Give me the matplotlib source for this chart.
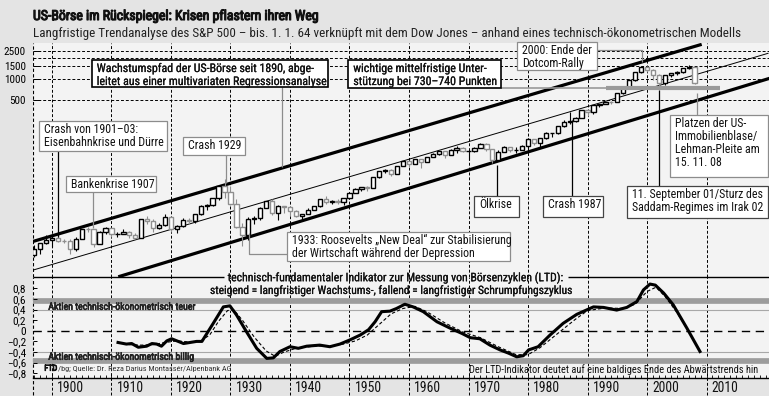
import matplotlib
matplotlib.use("Agg")
import matplotlib.pyplot as plt
from matplotlib import font_manager as fm
from matplotlib import patheffects as pe
from matplotlib.patches import Rectangle
from matplotlib.transforms import blended_transform_factory as btf

# condensed sans (Roboto Condensed, upright) if available
FP = None
for f in fm.fontManager.ttflist:
    if f.name == 'Roboto Condensed' and f.style == 'normal' and 'Italic' not in f.fname:
        FP = f.fname
        break
if FP is not None:
    plt.rcParams['font.family'] = ['Roboto Condensed', 'DejaVu Sans']
    plt.rcParams['font.style'] = 'normal'
else:
    plt.rcParams['font.family'] = ['DejaVu Sans']

def FPROP(**kw):
    if FP is not None:
        return fm.FontProperties(fname=FP, **kw)
    return fm.FontProperties(family='DejaVu Sans', **kw)

# ---------------- data ----------------
candle_years = list(range(1897, 2009))
first_open = 3.02
candle_close = [3.69, 4.52, 4.94, 5.28, 4.82, 4.80, 3.67, 5.20, 7.19, 7.05,
                4.39, 6.44, 7.40, 6.08, 6.10, 6.56, 5.88, 5.37, 9.75, 9.34,
                7.31, 8.08, 10.54, 7.07, 7.97, 9.71, 9.39, 11.85, 15.40, 15.45,
                19.90, 29.49, 24.43, 16.18, 7.66, 5.89, 9.82, 10.23, 14.17, 17.68,
                11.88, 15.21, 14.77, 12.89, 10.91, 11.74, 13.36, 14.97, 18.96, 17.42,
                17.81, 17.43, 19.67, 23.14, 26.47, 28.69, 27.61, 39.75, 48.01, 49.10,
                42.83, 57.37, 66.78, 60.54, 71.87, 64.10, 75.00, 84.75, 92.43, 80.33,
                96.47, 103.86, 92.06, 92.15, 102.09, 118.05, 97.55, 68.56, 90.19, 107.46,
                95.10, 96.11, 107.94, 135.76, 122.55, 140.64, 164.93, 167.24, 211.28, 242.17,
                247.08, 277.72, 353.40, 330.22, 417.09, 435.71, 466.45, 459.27, 615.93, 740.74,
                970.43, 1229.23, 1469.25, 1320.28, 1148.08, 879.82, 1111.92, 1211.92, 1248.29, 1418.30,
                1468.36, 873.0]
candle_high = [4.17, 4.55, 5.80, 5.30, 5.85, 5.11, 5.06, 5.47, 7.22, 7.69,
               7.20, 6.60, 7.51, 7.34, 6.51, 7.04, 6.62, 6.23, 9.75, 10.83,
               9.75, 8.76, 11.76, 10.80, 8.01, 10.16, 10.36, 11.85, 15.67, 16.38,
               19.90, 29.49, 37.47, 28.91, 19.11, 8.73, 10.69, 10.88, 14.59, 18.18,
               19.11, 15.57, 15.32, 15.02, 13.13, 11.77, 14.33, 14.99, 19.25, 20.89,
               18.37, 18.99, 19.71, 23.15, 27.17, 28.70, 28.88, 39.75, 48.01, 51.22,
               51.19, 57.37, 66.78, 67.38, 72.24, 71.37, 75.42, 86.28, 92.63, 94.06,
               97.59, 108.37, 106.16, 93.46, 104.77, 119.12, 120.24, 99.80, 95.61, 107.83,
               107.00, 106.99, 111.27, 140.52, 138.12, 143.02, 172.65, 170.41, 212.02, 254.00,
               336.77, 283.66, 359.80, 368.95, 417.09, 441.28, 470.94, 482.00, 621.69, 757.03,
               983.79, 1241.81, 1469.25, 1527.46, 1373.73, 1172.51, 1111.92, 1213.55, 1272.74, 1427.09,
               1565.15, 1471.0]
candle_low = [2.88, 3.14, 4.36, 3.96, 4.59, 4.45, 3.15, 3.47, 5.14, 6.36,
              3.96, 4.38, 5.97, 5.50, 5.45, 5.99, 5.39, 5.23, 5.33, 8.36,
              6.48, 7.22, 7.78, 6.56, 6.28, 7.73, 8.43, 8.68, 11.30, 13.29,
              15.01, 18.80, 19.53, 15.48, 7.25, 4.05, 4.93, 8.40, 9.51, 14.07,
              11.17, 9.73, 11.93, 10.99, 10.45, 9.13, 11.73, 13.19, 14.88, 16.03,
              16.04, 16.26, 15.89, 19.35, 23.49, 25.20, 25.12, 27.51, 38.16, 45.45,
              41.27, 42.95, 56.47, 55.64, 59.99, 52.67, 63.58, 75.43, 81.60, 73.20,
              80.38, 87.72, 89.20, 69.29, 90.16, 101.67, 92.16, 62.28, 70.04, 90.90,
              90.71, 86.90, 96.13, 98.22, 112.77, 102.42, 138.34, 147.82, 163.68, 203.49,
              223.92, 242.63, 275.31, 295.46, 311.49, 394.50, 429.05, 438.92, 459.11, 598.48,
              737.01, 923.32, 1212.19, 1264.74, 965.80, 776.76, 800.73, 1063.23, 1137.50, 1223.69,
              1374.12, 840.0]

trend_upper_years = [1896.69, 2009.19]
trend_upper = [4.7, 3097]
trend_mid_years = [1896.86, 2020.34]
trend_mid = [1.85, 2306]
trend_lower_years = [1911.14, 2020.6]
trend_lower = [1.48, 1013]
support_years = [1993.1, 2012.3]
support_level = [736, 736]

ltd_years = [1911.1, 1912.5, 1913.4, 1914.5, 1915.9, 1916.8, 1917.6, 1918.4, 1919.3, 1920.1,
             1921.0, 1922.1, 1923.2, 1924.3, 1925.2, 1927.1, 1928.8, 1929.9, 1931.0, 1932.7,
             1934.4, 1936.1, 1937.2, 1938.3, 1940.0, 1941.4, 1942.8, 1945.0, 1946.7, 1948.4,
             1950.1, 1951.8, 1953.2, 1954.3, 1955.4, 1956.8, 1957.9, 1959.3, 1960.7, 1962.4,
             1964.7, 1966.9, 1968.9, 1970.3, 1971.9, 1973.6, 1975.3, 1976.7, 1978.1, 1979.2,
             1980.1, 1981.7, 1983.7, 1985.9, 1988.2, 1991.0, 1992.7, 1994.9, 1996.6, 1998.3,
             1999.4, 2000.5, 2001.4, 2002.8, 2004.4, 2006.7, 2008.9]
ltd_values = [-0.22, -0.25, -0.24, -0.31, -0.29, -0.24, -0.25, -0.29, -0.19, -0.15,
              -0.19, -0.24, -0.22, -0.20, -0.20, 0.14, 0.45, 0.47, 0.30, -0.02,
              -0.33, -0.52, -0.51, -0.39, -0.30, -0.33, -0.29, -0.27, -0.30, -0.25,
              -0.17, -0.08, 0.02, 0.17, 0.36, 0.37, 0.42, 0.50, 0.45, 0.36,
              0.17, 0.05, -0.05, -0.13, -0.15, -0.27, -0.36, -0.42, -0.49, -0.47,
              -0.36, -0.30, -0.08, 0.14, 0.31, 0.45, 0.44, 0.39, 0.44, 0.55,
              0.77, 0.88, 0.86, 0.71, 0.49, 0.05, -0.39]
ltd_sig_years = [1911.1, 1913, 1915, 1917, 1919, 1921, 1923, 1925, 1926.5, 1928,
                 1929.5, 1930.5, 1932, 1934, 1936, 1937.5, 1939, 1941, 1944, 1947,
                 1949, 1951, 1953, 1955, 1957, 1959, 1961, 1963, 1966, 1969,
                 1972, 1975, 1978, 1980, 1982, 1985, 1988, 1990, 1993, 1996,
                 1998, 2000, 2001.5, 2003, 2005, 2007.5]
ltd_sig_values = [-0.22, -0.26, -0.27, -0.26, -0.22, -0.19, -0.21, -0.19, -0.08, 0.18,
                  0.38, 0.40, 0.20, -0.12, -0.38, -0.48, -0.40, -0.33, -0.29, -0.28,
                  -0.25, -0.19, -0.08, 0.12, 0.32, 0.42, 0.46, 0.36, 0.15, -0.02,
                  -0.13, -0.30, -0.45, -0.45, -0.32, -0.05, 0.22, 0.38, 0.43, 0.42,
                  0.50, 0.74, 0.82, 0.65, 0.35, -0.10]

top_ticks = [2500, 1500, 1000, 500]
top_grid = [2500, 2000, 1500, 1000, 500]
bot_ticks = [0.8, 0.6, 0.4, 0.2, 0, -0.2, -0.4, -0.6, -0.8]
decades = list(range(1900, 2020, 10))

# ---------------- layout ----------------
W, H = 769, 396
BG = '#e4e4e4'
PBG = '#f3f3f3'
GRAY = '#8f8f8f'
fig = plt.figure(figsize=(W / 100, H / 100), dpi=100, facecolor=BG)

def fr(x0, y0, x1, y1):
    return [x0 / W, 1 - y1 / H, (x1 - x0) / W, (y1 - y0) / H]

ax = fig.add_axes(fr(33, 43, 769, 277), facecolor=PBG)
axb = fig.add_axes(fr(33, 277, 769, 378), facecolor=PBG)
XL = (1896.81, 2020.5)
for a in (ax, axb):
    a.set_xlim(*XL)
    for s in ('top', 'right', 'bottom', 'left'):
        a.spines[s].set_visible(False)
ax.set_yscale('log')
ax.set_ylim(1.47, 3237)
axb.set_ylim(-0.889, 1.013)

DASH = (0, (3, 2))
for d in decades:
    ax.axvline(d, color='black', lw=0.7, ls=DASH, zorder=1)
    axb.plot([d, d], [-0.17, 1], transform=btf(axb.transData, axb.transAxes),
             color='black', lw=0.7, ls=DASH, clip_on=False, zorder=1)
ax.axvline(XL[0] + 0.05, color='black', lw=0.8, ls=DASH, zorder=1)
axb.plot([XL[0] + 0.05] * 2, [-0.17, 1], transform=btf(axb.transData, axb.transAxes),
         color='black', lw=0.8, ls=DASH, clip_on=False, zorder=1)
for v in top_grid:
    ax.axhline(v, color='black', lw=0.7, ls=DASH, zorder=1)

ax.plot(trend_upper_years, trend_upper, color='black', lw=2.3, zorder=2, solid_capstyle='butt')
ax.plot(trend_mid_years, trend_mid, color='black', lw=0.7, zorder=2)
ax.plot(trend_lower_years, trend_lower, color='black', lw=2.3, zorder=2, solid_capstyle='butt')

opens = [first_open] + candle_close[:-1]
cols, bots, hts = [], [], []
for o, c in zip(opens, candle_close):
    cols.append('black' if c >= o else GRAY)
    bots.append(min(o, c))
    hts.append(max(abs(c - o), 0.002 * c))
ax.vlines(candle_years, candle_low, candle_high, colors=cols, lw=0.8, zorder=3)
ax.bar(candle_years, hts, bottom=bots, width=0.72, color='white', edgecolor=cols,
       linewidth=1.0, zorder=4)

ax.plot(support_years, support_level, color='#9a9a9a', lw=3.0, zorder=5, solid_capstyle='butt')

ax.set_xticks([])
ax.set_yticks(top_ticks)
ax.set_yticks([], minor=True)
ax.set_yticklabels([str(t) for t in top_ticks])
ax.tick_params(axis='y', direction='in', length=4, width=0.7, pad=5)

axb.axhline(0.56, color='#9c9c9c', lw=4.1, zorder=1)
axb.axhline(-0.56, color='#9c9c9c', lw=4.1, zorder=1)
axb.axhline(0.4, color='#a8a8a8', lw=0.8, zorder=1)
axb.axhline(-0.4, color='#a8a8a8', lw=0.8, zorder=1)
axb.axhline(0, color='black', lw=1.0, ls=(0, (6, 4)), zorder=1)
axb.plot(ltd_sig_years, ltd_sig_values, color='black', lw=0.8, ls=(0, (3, 2)), zorder=3)
axb.plot(ltd_years, ltd_values, color='black', lw=2.2, zorder=4, solid_joinstyle='round')
axb.spines['bottom'].set_visible(True)
axb.spines['bottom'].set_linewidth(1.0)
axb.set_xticks([])
axb.set_xticks(list(range(1897, 2021)), minor=True)
axb.tick_params(axis='x', which='minor', direction='in', length=2.5, width=0.6)
axb.set_yticks(bot_ticks)
axb.set_yticklabels([('\u2212' if t < 0 else '') + ('%.1f' % abs(t)).replace('.', ',')
                     if t != 0 else '0' for t in bot_ticks])
axb.tick_params(axis='y', direction='in', length=3, width=0.7, pad=5)

fig.canvas.draw()
R = fig.canvas.get_renderer()

def size_for(s, w):
    t = fig.text(0, 0, s, fontproperties=FPROP(size=10))
    bb = t.get_window_extent(R)
    t.remove()
    return 10 * w / bb.width

def bold(c, w=0.6):
    return [pe.withStroke(linewidth=w, foreground=c)]

for lab in ax.get_yticklabels():
    lab.set_fontproperties(FPROP(size=size_for('2500', 21.7)))
for lab in axb.get_yticklabels():
    lab.set_fontproperties(FPROP(size=size_for('0,8', 13.3)))
ysz = size_for('1900', 26.7)
for d in decades:
    axb.text(d + 0.85, -0.10, str(d), transform=btf(axb.transData, axb.transAxes),
             ha='left', va='center', fontproperties=FPROP(size=ysz), color='#111')

def px(x, y):
    return x / W, 1 - y / H

title = 'US-Börse im Rückspiegel: Krisen pflastern ihren Weg'
fig.text(*px(33, 16), title, fontproperties=FPROP(size=size_for(title, 284)),
         va='center', ha='left', color='#111', path_effects=bold('#111', 0.8))
sub = 'Langfristige Trendanalyse des S&P 500 – bis. 1. 1. 64 verknüpft mit dem Dow Jones – anhand eines technisch-ökonometrischen Modells'
fig.text(*px(33, 33), sub, fontproperties=FPROP(size=size_for(sub, 700)), va='center', ha='left', color='#222')

ov = fig.add_axes([0, 0, 1, 1], zorder=10)
ov.set_xlim(0, W)
ov.set_ylim(H, 0)
ov.axis('off')
ov.patch.set_visible(False)

bsz = size_for('leitet aus einer multivariaten Regressionsanalyse', 228)

def box(x0, y0, x1, y1, lines, ec, lw=0.9, heavy=False):
    ov.add_patch(Rectangle((x0, y0), x1 - x0, y1 - y0, facecolor='white', edgecolor=ec, lw=lw, zorder=5))
    for i, ln in enumerate(lines):
        ov.text(x0 + 5, y0 + 8.5 + i * 13, ln, ha='left', va='center', fontproperties=FPROP(size=bsz),
                color='#111', zorder=6, path_effects=bold('#111', 0.15) if heavy else None)

def seg(xs, ys, c, lw=0.9):
    ov.plot(xs, ys, color=c, lw=lw, zorder=4, solid_capstyle='butt')

LG = '#8c8c8c'
seg([58.3, 58.3], [150.7, 236.7], 'black')
box(39.3, 120.7, 166.7, 150.7, ['Crash von 1901–03:', 'Eisenbahnkrise und Dürre'], LG)
seg([93.3, 93.3], [191.7, 228.3], LG)
box(66, 176, 156, 191.7, ['Bankenkrise 1907'], LG)
seg([226, 226], [155, 183.3], LG)
box(183.3, 136.7, 245, 155, ['Crash 1929'], LG)
seg([281.7, 281.7], [86.7, 167], LG)
box(91.7, 60, 328.3, 86.7, ['Wachstumspfad der US-Börse seit 1890, abge-',
                           'leitet aus einer multivariaten Regressionsanalyse'], 'black', 1.2, True)
seg([500.7, 606], [88, 88], '#9a9a9a', 1.2)
box(348.3, 60, 500.7, 88.3, ['wichtige mittelfristige Unter-', 'stützung bei 730–740 Punkten'], 'black', 1.2, True)
seg([596.7, 641.7, 641.7], [50, 50, 61.7], LG)
box(516.7, 41.7, 596.7, 70, ['2000: Ende der', 'Dotcom-Rally'], LG)
seg([249.3, 249.3, 286.7], [233.3, 254, 254], LG)
box(286.7, 231.7, 510, 261, ['1933: Roosevelts „New Deal“ zur Stabilisierung',
                             'der Wirtschaft während der Depression'], LG)
seg([496.7, 496.7], [165, 196], 'black')
box(474, 196, 519.3, 217.3, ['Ölkrise'], '#444')
seg([571.7, 571.7], [120, 196], 'black')
box(542.7, 196, 602.7, 217.3, ['Crash 1987'], '#444')
seg([659, 659], [90, 186], 'black')
box(626.7, 186, 768.3, 218.3, ['11. September 01/Sturz des', 'Saddam-Regimes im Irak 02'], '#444')
seg([696.7, 696.7], [93, 115], LG)
box(670, 115, 768.3, 177.3, ['Platzen der US-', 'Immobilienblase/', 'Lehman-Pleite am', '15. 11. 08'], LG)

seg([33, 224], [277, 277], 'black', 1.0)
seg([568, 769], [277, 277], 'black', 1.0)
t1 = 'technisch-fundamentaler Indikator zur Messung von Börsenzyklen (LTD):'
t2 = 'steigend = langfristiger Wachstums-, fallend = langfristiger Schrumpfungszyklus'
ov.text(227.7, 277.5, t1, fontproperties=FPROP(size=size_for(t1, 334)), ha='left', va='center', color='#111',
        path_effects=bold('#111', 0.15))
ov.text(210, 290.5, t2, fontproperties=FPROP(size=size_for(t2, 360.7)), ha='left', va='center', color='#111',
        path_effects=bold('#111', 0.15))
t3 = 'Aktien technisch-ökonometrisch teuer'
t4 = 'Aktien technisch-ökonometrisch billig'
ov.text(48.3, 306.7, t3, fontproperties=FPROP(size=size_for(t3, 146)), ha='left', va='center', color='#222',
        path_effects=bold('#222', 0.5))
ov.text(48.3, 356.7, t4, fontproperties=FPROP(size=size_for(t4, 145)), ha='left', va='center', color='#222',
        path_effects=bold('#222', 0.5))
fsz = size_for('FTD/bg; Quelle: Dr. Reza Darius Montassér/Alpenbank AG', 186)
tf = ov.text(44.3, 368.7, 'FTD', fontproperties=FPROP(size=fsz), ha='left', va='center', color='#111',
             path_effects=bold('#111', 0.6))
fig.canvas.draw()
bb = tf.get_window_extent(R)
ov.text(44.3 + bb.width + 0.5, 368.7, '/bg; Quelle: Dr. Reza Darius Montassér/Alpenbank AG',
        fontproperties=FPROP(size=fsz), ha='left', va='center', color='#333')
t5 = 'Der LTD-Indikator deutet auf eine baldiges Ende des Abwärtstrends hin'
ov.text(758.3, 369.3, t5, fontproperties=FPROP(size=size_for(t5, 288)), ha='right', va='center', color='#111')

fig.savefig('out.png', dpi=100, facecolor=BG)
